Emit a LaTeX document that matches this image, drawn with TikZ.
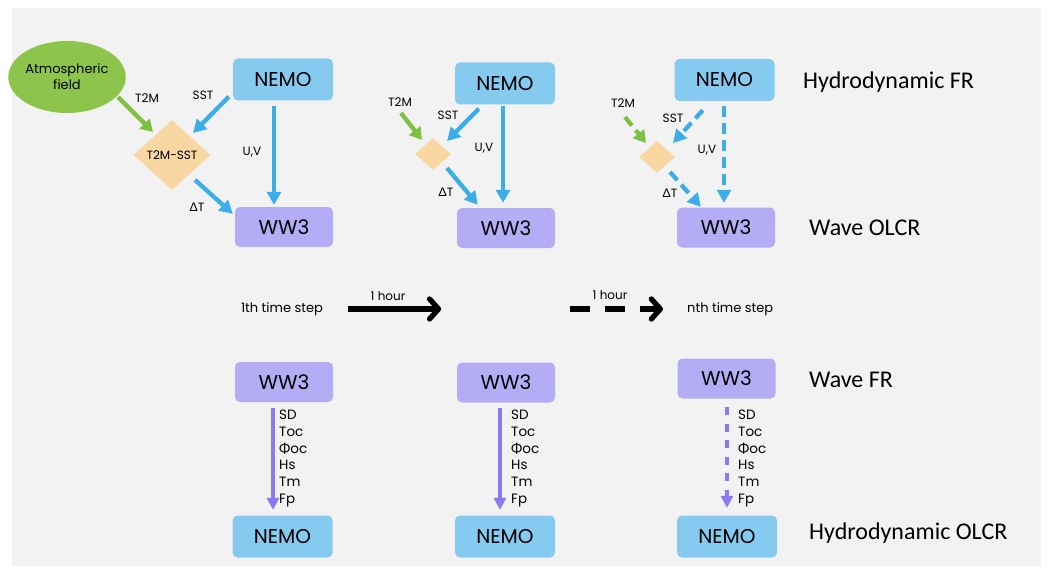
\documentclass[tikz,border=0pt]{standalone}
\usepackage{fontspec}
\setmainfont{Poppins}
\newfontfamily\grk{Lato}
\newfontfamily\rowfont{Carlito}
\usetikzlibrary{arrows.meta,shapes.geometric}

\definecolor{bggray}{HTML}{F2F2F2}
\definecolor{nemoblue}{HTML}{86CBEF}
\definecolor{wavepurple}{HTML}{B4ADF5}
\definecolor{mixpeach}{HTML}{F8D7A3}
\definecolor{atmgreen}{HTML}{8DC54C}
\definecolor{linkblue}{HTML}{3BAEE9}
\definecolor{linkgreen}{HTML}{7DC143}
\definecolor{linkpurple}{HTML}{8A78F5}

\begin{document}
\begin{tikzpicture}[x=1pt,y=-1pt,
  modelbox/.style={rounded corners=5pt, inner sep=0pt, text=black,
    font=\fontsize{20}{24}\selectfont},
  nemo/.style={modelbox, fill=nemoblue, minimum width=100pt, minimum height=42pt},
  wave/.style={modelbox, fill=wavepurple, minimum width=98pt, minimum height=40pt},
  atmfield/.style={ellipse, fill=atmgreen, inner sep=0pt, minimum width=104pt,
    minimum height=72pt, align=center, font=\fontsize{13}{16}\selectfont},
  mixbig/.style={diamond, fill=mixpeach, inner sep=0pt, minimum width=77pt,
    minimum height=70pt, font=\fontsize{12}{14}\selectfont},
  mixsmall/.style={diamond, fill=mixpeach, inner sep=0pt, minimum width=36pt,
    minimum height=32pt},
  flowlabel/.style={inner sep=0pt, font=\fontsize{12}{14}\selectfont},
  rowlabel/.style={anchor=west, inner sep=0pt, font=\rowfont\fontsize{24}{28}\selectfont},
  fluxlist/.style={anchor=west, inner sep=0pt, align=left,
    font=\fontsize{13.5}{16.7}\selectfont},
  steplabel/.style={inner sep=0pt, font=\fontsize{13}{16}\selectfont},
  blink/.style={draw=linkblue, line width=4.3pt, -{Triangle[length=13pt,width=14pt]}},
  glink/.style={draw=linkgreen, line width=4.3pt, -{Triangle[length=12pt,width=14pt]}},
  plink/.style={draw=linkpurple, line width=3.5pt, -{Triangle[length=12pt,width=12pt]}},
  dashlink/.style={dash pattern=on 11pt off 6pt},
  pdash/.style={dash pattern=on 8pt off 8.5pt},
  hourlink/.style={draw=black, line width=5.3pt,
    -{Straight Barb[length=9pt,width=20pt,round]}},
]
% page and panel background
\fill[white] (0,0) rectangle (1049,575);
\fill[bggray] (12,8) rectangle (1041,566);

% ---------- first coupling step ----------
\node[nemo] (n1) at (283,79.5) {NEMO};
\node[wave] (w1) at (284,227) {WW3};
\node[atmfield] (atm) at (67,77) {Atmospheric\\field};
\node[mixbig] (d1) at (172,155) {T2M-SST};

\draw[glink] ([shift={(51,20)}]atm.center) -- ([shift={(-19,-23)}]d1.center);
\draw[blink] ([shift={(-4,-4)}]n1.south west) -- ([shift={(21,-22)}]d1.center);
\draw[blink] ([shift={(-9,5)}]n1.south) -- ([shift={(-10,-2)}]w1.north);
\draw[blink] ([shift={(23,25)}]d1.center) -- ([shift={(-2,7)}]w1.north west);

\node[flowlabel] (t2m1) at (147,98) {T2M};
\node[flowlabel] (sst1) at (203,95) {SST};
\node[flowlabel] (uv1) at (252,152) {U,V};
\node[flowlabel] (dt1) at (197,207) {{\grk Δ}T};

% ---------- second coupling step ----------
\node[nemo] (n2) at (505,83.5) {NEMO};
\node[wave] (w2) at (506,228) {WW3};
\node[mixsmall] (d2) at (433,154) {};

\draw[glink] ([shift={(-32,-41)}]d2.center) -- ([shift={(-11,-14)}]d2.center);
\draw[blink] ([shift={(24,4)}]n2.south west) -- ([shift={(14,-13)}]d2.center);
\draw[blink] ([shift={(-2,1)}]n2.south) -- ([shift={(-3,-5)}]w2.north);
\draw[blink] ([shift={(14,14)}]d2.center) -- ([shift={(21,-3)}]w2.north west);

\node[flowlabel] (t2m2) at (400,102) {T2M};
\node[flowlabel] (sst2) at (448,115) {SST};
\node[flowlabel] (uv2) at (484,148) {U,V};
\node[flowlabel] (dt2) at (446,192) {{\grk Δ}T};

% ---------- n-th coupling step ----------
\node[nemo] (n3) at (724.5,80) {NEMO};
\node[wave] (w3) at (726,227.5) {WW3};
\node[mixsmall] (d3) at (657,157) {};

\draw[glink,dashlink] ([shift={(-32,-40)}]d3.center) -- ([shift={(-11,-14)}]d3.center);
\draw[blink,dashlink] ([shift={(28.5,9)}]n3.south west) -- ([shift={(16,-14)}]d3.center);
\draw[blink,dashlink] ([shift={(-0.5,5)}]n3.south) -- ([shift={(-2,-4.5)}]w3.north);
\draw[blink,dashlink] ([shift={(13,15)}]d3.center) -- ([shift={(24,-0.5)}]w3.north west);

\node[flowlabel] (t2m3) at (623,103) {T2M};
\node[flowlabel] (sst3) at (673,118) {SST};
\node[flowlabel] (uv3) at (707,150) {U,V};
\node[flowlabel] (dt3) at (670,193) {{\grk Δ}T};

% ---------- time stepping ----------
\node[steplabel] (step1) at (282,309) {1th time step};
\node[steplabel, anchor=west] (stepn) at (687,309) {nth time step};
\draw[hourlink] ([shift={(25,0)}]step1.east) -- ([shift={(118,0)}]step1.east);
\draw[hourlink, dash pattern=on 20pt off 15pt] ([shift={(-117,0)}]stepn.west) -- ([shift={(-24,0)}]stepn.west);
\node[flowlabel] (hour1) at (388,296) {1 hour};
\node[flowlabel] (hourn) at (610,295) {1 hour};

% ---------- wave forcing back to the ocean ----------
\node[wave] (wb1) at (284,382) {WW3};
\node[nemo] (nb1) at (282.5,536.5) {NEMO};
\node[wave] (wb2) at (506,382.5) {WW3};
\node[nemo] (nb2) at (505,536.5) {NEMO};
\node[wave] (wb3) at (726.5,378.5) {WW3};
\node[nemo] (nb3) at (727,536.5) {NEMO};

\draw[plink] ([shift={(-11,6)}]wb1.south) -- ([shift={(-9.5,-5.5)}]nb1.north);
\draw[plink] ([shift={(-6,5.5)}]wb2.south) -- ([shift={(-5,-5.5)}]nb2.north);
\draw[plink,pdash] ([shift={(0.5,8.5)}]wb3.south) -- ([shift={(0,-7.5)}]nb3.north);

\node[fluxlist] (flux1) at (279,458.5) {SD\\Toc\\{\grk Φ}oc\\Hs\\Tm\\Fp};
\node[fluxlist] (flux2) at (511,458.5) {SD\\Toc\\{\grk Φ}oc\\Hs\\Tm\\Fp};
\node[fluxlist] (flux3) at (738,458.5) {SD\\Toc\\{\grk Φ}oc\\Hs\\Tm\\Fp};

% ---------- row captions ----------
\node[rowlabel] (rowhfr) at (803,82) {Hydrodynamic FR};
\node[rowlabel] (rowwolcr) at (809,228) {Wave OLCR};
\node[rowlabel] (rowwfr) at (809,380) {Wave FR};
\node[rowlabel] (rowholcr) at (809,533) {Hydrodynamic OLCR};
\end{tikzpicture}
\end{document}
